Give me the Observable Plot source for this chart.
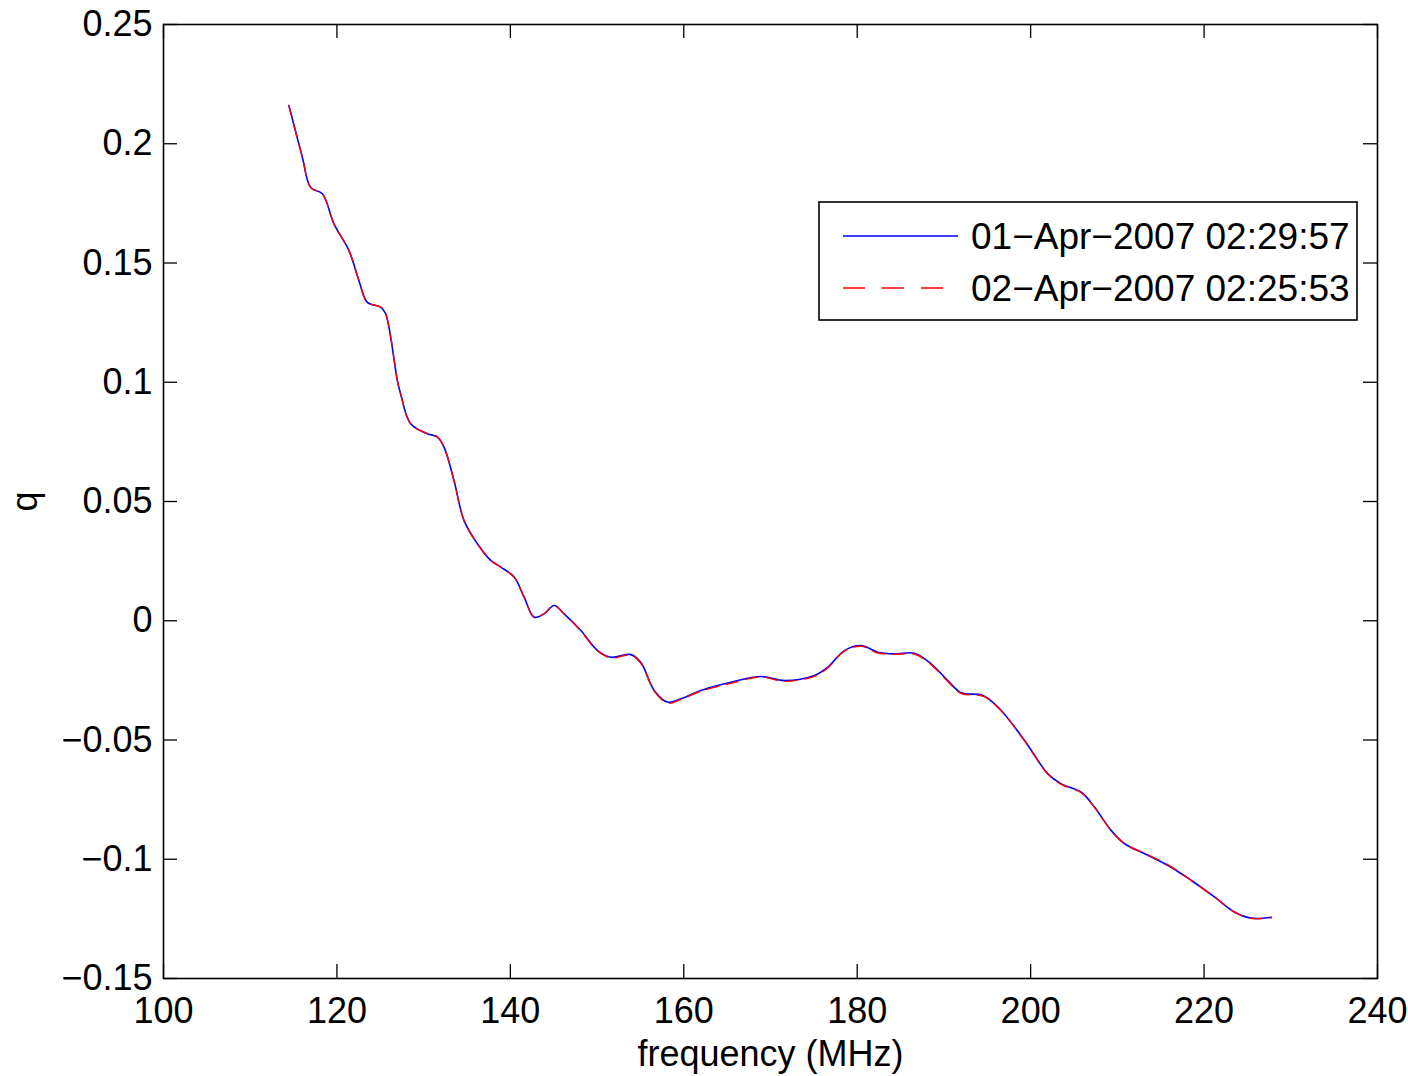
<!DOCTYPE html>
<html><head><meta charset="utf-8">
<script src="https://cdn.jsdelivr.net/npm/d3@7"></script>
<script src="https://cdn.jsdelivr.net/npm/@observablehq/plot@0.6"></script>
<style>body{margin:0;background:#fff;} #chart{position:relative;width:1408px;height:1076px;}</style>
</head><body><div id="chart"></div>
<script>
// ---- data ----
const freq = [114.46,116.01,116.97,118.32,119.66,121.39,122.54,123.51,125.05,125.62,126.97,127.35,128.5,130.44,131.6,132.35,133.5,134.66,136.2,137.74,138.9,140.43,141.59,142.74,143.89,145.05,146.2,148.13,150.06,151.6,153.9,155.05,156.59,158.13,159.67,161.98,165.44,168.9,171.6,175.06,176.6,178.52,180.45,182.37,184.29,186.6,188.53,190.45,192.0,194.5,196.4,199.3,201.99,203.53,205.84,207.38,209.3,210.84,213.15,215.85,218.54,221.23,223.54,225.46,227.77];
const q1 = [0.216,0.1944,0.1817,0.179,0.1664,0.1552,0.1426,0.1335,0.1315,0.1287,0.1007,0.0951,0.0826,0.0784,0.077,0.0728,0.0588,0.042,0.0323,0.0253,0.0225,0.0183,0.0099,0.0015,0.0029,0.0064,0.0029,-0.0041,-0.0125,-0.0153,-0.0142,-0.0175,-0.0292,-0.0341,-0.0327,-0.0292,-0.0258,-0.0234,-0.0251,-0.023,-0.0195,-0.0125,-0.0104,-0.0132,-0.0139,-0.0136,-0.0181,-0.0251,-0.0302,-0.0313,-0.0368,-0.0502,-0.0642,-0.0684,-0.0719,-0.0782,-0.088,-0.0935,-0.0977,-0.1026,-0.1089,-0.1159,-0.1222,-0.1247,-0.1243];
const q2 = [0.216,0.1944,0.1817,0.179,0.1664,0.1552,0.1426,0.1335,0.1315,0.1287,0.1007,0.0951,0.0826,0.0784,0.077,0.0728,0.0588,0.042,0.0323,0.0253,0.0225,0.0183,0.0099,0.0015,0.0029,0.0064,0.0029,-0.0043,-0.0127,-0.0156,-0.0144,-0.0178,-0.0295,-0.0345,-0.0330,-0.0295,-0.0262,-0.0236,-0.0254,-0.0233,-0.0198,-0.0127,-0.0107,-0.0135,-0.0141,-0.0140,-0.0184,-0.0255,-0.0305,-0.0316,-0.0370,-0.0503,-0.0643,-0.0686,-0.0721,-0.0783,-0.0881,-0.0935,-0.0975,-0.1024,-0.1089,-0.1159,-0.1222,-0.1248,-0.1245];
const seriesNames = ["01\u2212Apr\u22122007 02:29:57", "02\u2212Apr\u22122007 02:25:53"];
const xTicks = [100,120,140,160,180,200,220,240];
const yTicks = [-0.15,-0.1,-0.05,0,0.05,0.1,0.15,0.2,0.25];

// ---- layout ----
const W = 1408, H = 1076, mL = 163, mR = 31, mT = 24, mB = 98;
const plotW = W - mL - mR, plotH = H - mT - mB, tick = 14;
const FONT = "'Liberation Sans', Arial, sans-serif";

const rows1 = freq.map((f, i) => ({f, q: q1[i]}));
const rows2 = freq.map((f, i) => ({f, q: q2[i]}));
const fmtY = d => d === 0 ? "0" : (d < 0 ? "\u2212" : "") + String(+Math.abs(d).toFixed(2));

const chart = Plot.plot({
  width: W, height: H,
  marginLeft: mL, marginRight: mR, marginTop: mT, marginBottom: mB,
  style: {fontFamily: FONT, fontSize: "36px", background: "#fff", color: "#000"},
  x: {domain: [100, 240]},
  y: {domain: [-0.15, 0.25]},
  marks: [
    Plot.axisX(xTicks, {tickSize: 0, tickPadding: 19, tickFormat: d => String(d), fontSize: 36,
      label: "frequency (MHz)", labelAnchor: "center", labelOffset: 87, labelArrow: "none"}),
    Plot.axisY(yTicks, {tickSize: 0, tickPadding: 11, tickFormat: fmtY, fontSize: 36,
      label: "q", labelAnchor: "center", labelOffset: 152, labelArrow: "none"}),
    Plot.ruleX(xTicks, {x: d => d, insetTop: plotH - tick, stroke: "#000", strokeWidth: 1.3}),
    Plot.ruleX(xTicks, {x: d => d, insetBottom: plotH - tick, stroke: "#000", strokeWidth: 1.3}),
    Plot.ruleY(yTicks, {y: d => d, insetRight: plotW - tick, stroke: "#000", strokeWidth: 1.3}),
    Plot.ruleY(yTicks, {y: d => d, insetLeft: plotW - tick, stroke: "#000", strokeWidth: 1.3}),
    Plot.line(rows1, {x: "f", y: "q", stroke: "#0000ff", strokeWidth: 1.6, curve: "catmull-rom"}),
    Plot.line(rows2, {x: "f", y: "q", stroke: "#ff0000", strokeWidth: 1.4, strokeDasharray: "12,8", curve: "catmull-rom"}),
    Plot.frame({stroke: "#000", strokeWidth: 1.6})
  ]
});
document.getElementById("chart").appendChild(chart);

// ---- legend (MATLAB-style boxed, inside the axes) ----
const svg = d3.select(chart);
const lg = svg.append("g").attr("font-family", FONT).attr("font-size", 37).attr("text-anchor", "start");
lg.append("rect").attr("x", 819).attr("y", 202).attr("width", 538).attr("height", 118)
  .attr("fill", "#fff").attr("stroke", "#000").attr("stroke-width", 1.6);
const styles = [{stroke: "#0000ff", dash: null}, {stroke: "#ff0000", dash: "22,17"}];
seriesNames.forEach((name, i) => {
  const y = 236 + i * 52;
  lg.append("line").attr("x1", 843).attr("x2", 958).attr("y1", y).attr("y2", y)
    .attr("stroke", styles[i].stroke).attr("stroke-width", 1.6)
    .attr("stroke-dasharray", styles[i].dash);
  lg.append("text").attr("x", 971).attr("y", y).attr("dy", "0.36em")
    .attr("text-anchor", "start").attr("fill", "#000").text(name);
});
</script>
</body></html>
